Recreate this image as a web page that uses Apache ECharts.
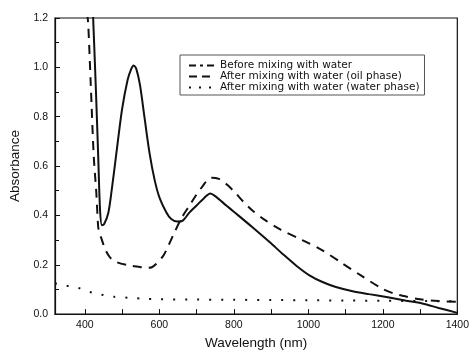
<!DOCTYPE html>
<html>
<head>
<meta charset="utf-8">
<script src="https://cdn.jsdelivr.net/npm/echarts@6.0.0/dist/echarts.min.js"></script>
<style>
html,body{margin:0;padding:0;background:#fff;}
#chart{width:472px;height:355px;}
</style>
</head>
<body>
<div id="chart"></div>
<script>
// Series names
const seriesNames = [
  'Before mixing with water',
  'After mixing with water (oil phase)',
  'After mixing with water (water phase)'
];

// Solid curve (before mixing)
const beforeX = [419, 425, 430, 436, 441, 446, 452, 463, 472, 485, 500, 515, 525, 531, 538, 548, 560, 574, 588, 601, 619, 632, 648, 663, 680, 700, 720, 737, 750, 780, 800, 850, 896, 931, 967, 1003, 1038, 1074, 1119, 1163, 1217, 1260, 1306, 1350, 1400];
const beforeY = [1.33, 1.10, 0.90, 0.64, 0.42, 0.36, 0.365, 0.41, 0.50, 0.655, 0.83, 0.95, 0.995, 1.008, 0.995, 0.93, 0.80, 0.65, 0.54, 0.47, 0.412, 0.385, 0.375, 0.379, 0.41, 0.44, 0.47, 0.489, 0.478, 0.44, 0.415, 0.352, 0.292, 0.244, 0.197, 0.157, 0.130, 0.110, 0.093, 0.081, 0.067, 0.055, 0.043, 0.025, 0.005];

// Dashed curve (oil phase)
const oilX = [406, 409, 416, 424, 431, 436, 440, 445, 454, 467, 485, 521, 548, 565, 580, 592, 610, 619, 641, 660, 681, 700, 717, 730, 740, 760, 783, 805, 826, 850, 880, 922, 984, 1038, 1089, 1143, 1196, 1230, 1257, 1300, 1350, 1400];
const oilY = [1.22, 1.18, 0.93, 0.64, 0.49, 0.353, 0.325, 0.305, 0.265, 0.231, 0.211, 0.197, 0.191, 0.187, 0.19, 0.204, 0.235, 0.26, 0.332, 0.39, 0.44, 0.485, 0.52, 0.545, 0.553, 0.548, 0.523, 0.49, 0.455, 0.42, 0.385, 0.345, 0.30, 0.258, 0.208, 0.155, 0.105, 0.083, 0.073, 0.06, 0.053, 0.05];

// Dotted curve (water phase)
const waterX = [320, 350, 380, 400, 420, 450, 480, 520, 560, 600, 700, 800, 900, 1000, 1100, 1200, 1300, 1400];
const waterY = [0.125, 0.115, 0.108, 0.095, 0.087, 0.077, 0.07, 0.066, 0.062, 0.06, 0.059, 0.058, 0.057, 0.056, 0.055, 0.054, 0.053, 0.052];

// Axis ticks
const xTickLabels = [400, 600, 800, 1000, 1200, 1400];
const xTicks = [400, 500, 600, 700, 800, 900, 1000, 1100, 1200, 1300, 1400];

function pairs(xs, ys) { return xs.map((x, i) => [x, ys[i]]); }

const chart = echarts.init(document.getElementById('chart'), null, {renderer: 'canvas'});
const FONT = 'Liberation Sans, Arial, sans-serif';
const LFONT = 'DejaVu Sans, sans-serif';
const noSym = {color: 'rgba(0,0,0,0)', borderWidth: 0, opacity: 0};
chart.setOption({
  animation: false,
  backgroundColor: '#fff',
  grid: {left: 55, right: 13, top: 18, bottom: 39, show: true, borderColor: '#111', borderWidth: 1.2, backgroundColor: 'transparent'},
  legend: {
    orient: 'vertical',
    left: 180, top: 55,
    padding: [5, 5, 2, 8],
    itemGap: 0,
    itemWidth: 26, itemHeight: 8,
    borderColor: '#555', borderWidth: 1,
    itemStyle: noSym,
    textStyle: {fontFamily: LFONT, fontSize: 10.5, lineHeight: 11, color: '#111'},
    data: [
      {name: seriesNames[0], lineStyle: {type: [7, 4, 3, 4], width: 2, color: '#111'}, itemStyle: noSym},
      {name: seriesNames[1], lineStyle: {type: [8, 5], width: 2, color: '#111'}, itemStyle: noSym},
      {name: seriesNames[2], lineStyle: {type: [2, 8], width: 2, color: '#111'}, itemStyle: noSym}
    ]
  },
  xAxis: {
    type: 'value', min: 320, max: 1400,
    name: 'Wavelength (nm)', nameLocation: 'middle', nameGap: 17,
    nameTextStyle: {fontFamily: FONT, fontSize: 13.5, color: '#111'},
    axisLine: {show: true, lineStyle: {color: '#111', width: 1.2}},
    axisTick: {show: true, inside: true, length: 5, customValues: xTicks, lineStyle: {color: '#111'}},
    axisLabel: {customValues: xTickLabels, fontFamily: FONT, fontSize: 10.5, color: '#111', margin: 6, formatter: v => String(v)},
    splitLine: {show: false}
  },
  yAxis: {
    type: 'value', min: 0, max: 1.2, interval: 0.2,
    name: 'Absorbance', nameLocation: 'middle', nameGap: 31,
    nameTextStyle: {fontFamily: FONT, fontSize: 13.5, color: '#111'},
    axisLine: {show: true, lineStyle: {color: '#111', width: 1.2}},
    axisTick: {show: true, inside: true, length: 5, lineStyle: {color: '#111'}},
    minorTick: {show: true, splitNumber: 2, length: 4, lineStyle: {color: '#111'}},
    axisLabel: {fontFamily: FONT, fontSize: 10.5, color: '#111', margin: 7, formatter: v => v.toFixed(1)},
    splitLine: {show: false}
  },
  series: [
    {name: seriesNames[0], type: 'line', data: pairs(beforeX, beforeY), smooth: 0.3, showSymbol: false, symbol: 'none', clip: true,
     lineStyle: {color: '#111', width: 2}, itemStyle: {color: '#111'}},
    {name: seriesNames[1], type: 'line', data: pairs(oilX, oilY), smooth: 0.3, showSymbol: false, symbol: 'none', clip: true,
     lineStyle: {color: '#111', width: 2, type: [9, 7]}, itemStyle: {color: '#111'}},
    {name: seriesNames[2], type: 'line', data: pairs(waterX, waterY), smooth: 0.3, showSymbol: false, symbol: 'none', clip: true,
     lineStyle: {color: '#111', width: 2, type: [2, 10]}, itemStyle: {color: '#111'}}
  ]
});
</script>
</body>
</html>
